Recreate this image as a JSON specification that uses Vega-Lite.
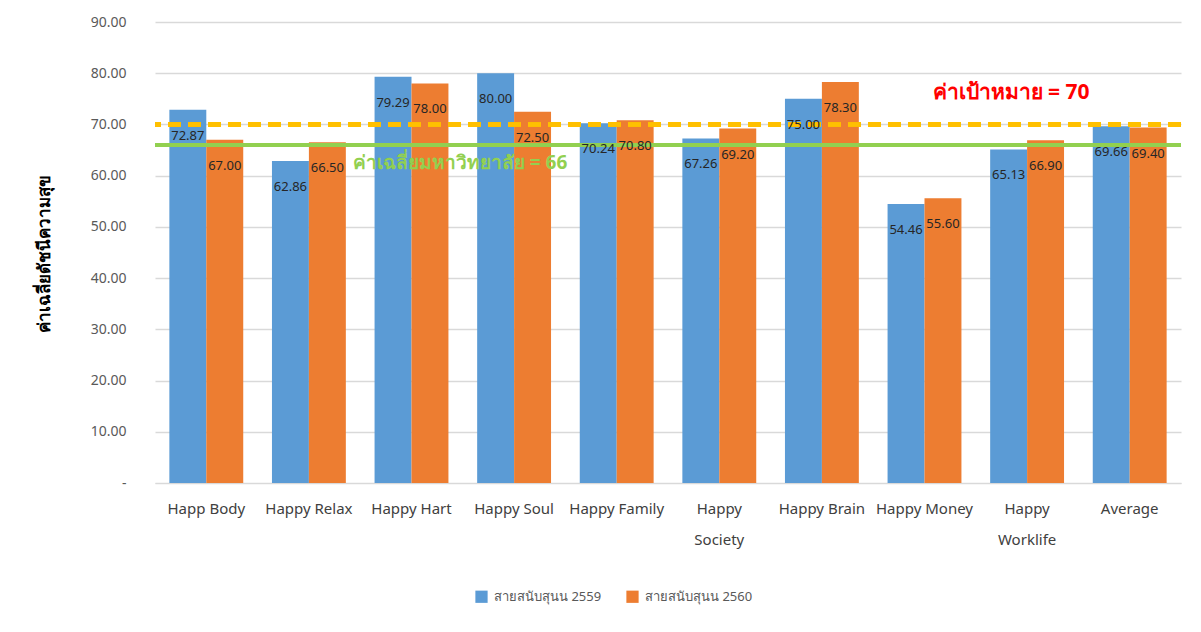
{
  "$schema": "https://vega.github.io/schema/vega-lite/v6.json",
  "autosize": {"type": "none"},
  "width": 1026,
  "height": 461,
  "padding": {"left": 155, "top": 22, "right": 20, "bottom": 149},
  "background": "white",
  "config": {
    "font": "Noto Sans",
    "view": {"stroke": null},
    "axis": {"labelFont": "Noto Sans", "titleFont": "Noto Sans"}
  },
  "datasets": {
    "bars": [
      {"cat": "Happ Body", "series": "สายสนับสุนน 2559", "value": 72.87},
      {"cat": "Happ Body", "series": "สายสนับสุนน 2560", "value": 67.00},
      {"cat": "Happy Relax", "series": "สายสนับสุนน 2559", "value": 62.86},
      {"cat": "Happy Relax", "series": "สายสนับสุนน 2560", "value": 66.50},
      {"cat": "Happy Hart", "series": "สายสนับสุนน 2559", "value": 79.29},
      {"cat": "Happy Hart", "series": "สายสนับสุนน 2560", "value": 78.00},
      {"cat": "Happy Soul", "series": "สายสนับสุนน 2559", "value": 80.00},
      {"cat": "Happy Soul", "series": "สายสนับสุนน 2560", "value": 72.50},
      {"cat": "Happy Family", "series": "สายสนับสุนน 2559", "value": 70.24},
      {"cat": "Happy Family", "series": "สายสนับสุนน 2560", "value": 70.80},
      {"cat": "Happy Society", "series": "สายสนับสุนน 2559", "value": 67.26},
      {"cat": "Happy Society", "series": "สายสนับสุนน 2560", "value": 69.20},
      {"cat": "Happy Brain", "series": "สายสนับสุนน 2559", "value": 75.00},
      {"cat": "Happy Brain", "series": "สายสนับสุนน 2560", "value": 78.30},
      {"cat": "Happy Money", "series": "สายสนับสุนน 2559", "value": 54.46},
      {"cat": "Happy Money", "series": "สายสนับสุนน 2560", "value": 55.60},
      {"cat": "Happy Worklife", "series": "สายสนับสุนน 2559", "value": 65.13},
      {"cat": "Happy Worklife", "series": "สายสนับสุนน 2560", "value": 66.90},
      {"cat": "Average", "series": "สายสนับสุนน 2559", "value": 69.66},
      {"cat": "Average", "series": "สายสนับสุนน 2560", "value": 69.40}
    ],
    "notes": [
      {"cat": "Happy Worklife", "y": 76.2, "label": "ค่าเป้าหมาย = 70", "kind": "target"},
      {"cat": "Happy Soul", "y": 62.5, "label": "ค่าเฉลี่ยมหาวิทยาลัย = 66", "kind": "avg"}
    ]
  },
  "data": {"name": "bars"},
  "encoding": {
    "x": {
      "field": "cat", "type": "nominal", "sort": null,
      "scale": {"paddingInner": 0.28, "paddingOuter": 0.14},
      "axis": {
        "title": null, "labelAngle": 0, "labelFontSize": 15, "labelColor": "#404040",
        "labelPadding": 18, "ticks": false, "domainColor": "#D9D9D9", "domainWidth": 1,
        "labelLineHeight": 31, "labelBaseline": "top",
        "labelExpr": "datum.value == 'Happy Society' ? ['Happy', 'Society'] : datum.value == 'Happy Worklife' ? ['Happy', 'Worklife'] : datum.value"
      }
    },
    "y": {
      "field": "value", "type": "quantitative",
      "scale": {"domain": [0, 90], "nice": false},
      "axis": {
        "values": [0, 10, 20, 30, 40, 50, 60, 70, 80, 90],
        "labelExpr": "datum.value == 0 ? '-' : format(datum.value, '.2f')",
        "labelFontSize": 14, "labelColor": "#595959", "labelPadding": 29,
        "ticks": false, "domain": false, "gridColor": "#D9D9D9", "gridWidth": 1.3,
        "title": "ค่าเฉลี่ยดัชนีความสุข", "titleFontSize": 17, "titleFontWeight": "bold",
        "titleColor": "#000000", "titleX": -102, "titleY": 231
      }
    }
  },
  "layer": [
    {
      "mark": {"type": "bar"},
      "encoding": {
        "xOffset": {"field": "series", "type": "nominal"},
        "color": {
          "field": "series", "type": "nominal",
          "scale": {"range": ["#5B9BD5", "#ED7D31"]},
          "legend": {
            "title": null, "orient": "none", "direction": "horizontal",
            "legendX": 320, "legendY": 568, "symbolType": "square", "symbolSize": 150,
            "symbolStrokeWidth": 0, "labelFontSize": 13, "labelColor": "#595959",
            "columnPadding": 24, "labelOffset": 6
          }
        }
      }
    },
    {
      "mark": {"type": "rule", "color": "#FFC000", "strokeWidth": 3.5, "strokeDash": [13, 7]},
      "encoding": {"y": {"datum": 70}, "x": null}
    },
    {
      "mark": {"type": "rule", "color": "#92D050", "strokeWidth": 4},
      "encoding": {"y": {"datum": 66}, "x": null}
    },
    {
      "mark": {"type": "text", "baseline": "middle", "dy": 26, "fontSize": 13, "color": "#262626"},
      "encoding": {
        "xOffset": {"field": "series", "type": "nominal"},
        "text": {"field": "value", "type": "quantitative", "format": ".2f"}
      }
    },
    {
      "data": {"name": "notes"},
      "transform": [{"filter": "datum.kind == 'target'"}],
      "mark": {"type": "text", "fontSize": 21, "fontWeight": "bold", "baseline": "middle", "color": "#FF0000", "dx": -16},
      "encoding": {
        "y": {"field": "y", "type": "quantitative"},
        "text": {"field": "label"}
      }
    },
    {
      "data": {"name": "notes"},
      "transform": [{"filter": "datum.kind == 'avg'"}],
      "mark": {"type": "text", "fontSize": 19, "fontWeight": "bold", "baseline": "middle", "color": "#92D050", "dx": -54},
      "encoding": {
        "y": {"field": "y", "type": "quantitative"},
        "text": {"field": "label"}
      }
    }
  ]
}
